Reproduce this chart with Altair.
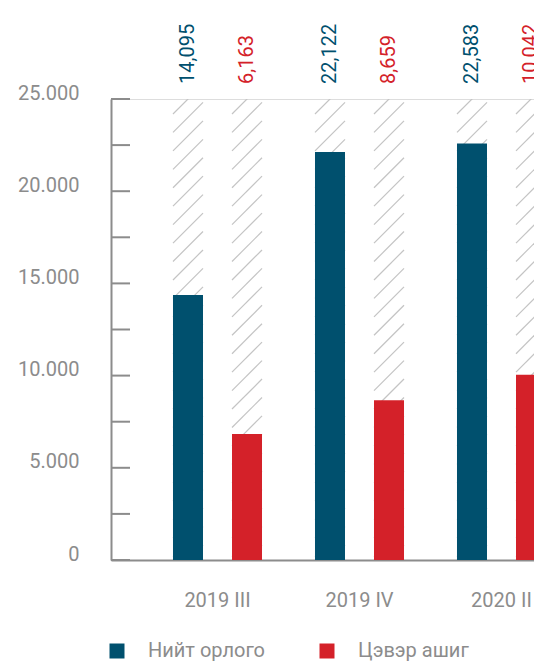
import altair as alt
import pandas as pd

# ---- data ----
categories = ["2019 III", "2019 IV", "2020 II"]
series = ["Нийт орлого", "Цэвэр ашиг"]
revenue = [14370, 22122, 22583]          # bar heights (Нийт орлого)
profit = [6830, 8659, 10042]             # bar heights (Цэвэр ашиг)
revenue_labels = ["14,095", "22,122", "22,583"]
profit_labels = ["6,163", "8,659", "10,042"]
y_max = 25000
major_ticks = [0, 5000, 10000, 15000, 20000, 25000]
minor_ticks = [0, 2500, 5000, 7500, 10000, 12500, 15000, 17500, 20000, 22500, 25000]
hatch_step = 1000
colors = ["#00506e", "#d42129"]

# ---- tables ----
rows = []
for i, c in enumerate(categories):
    rows.append({"cat": c, "series": series[0], "value": revenue[i], "label": revenue_labels[i]})
    rows.append({"cat": c, "series": series[1], "value": profit[i], "label": profit_labels[i]})
df = pd.DataFrame(rows)

hatch = pd.DataFrame(
    [{"cat": c, "series": s, "level": lv}
     for c in categories for s in series
     for lv in range(0, y_max + hatch_step, hatch_step)]
)
ticks_df = pd.DataFrame({"value": minor_ticks})

GRAY = "#8c8c8c"
FONT = "Roboto"

x_axis = alt.Axis(title=None, labelAngle=0, ticks=False, tickSize=0,
                  domainColor=GRAY, domainWidth=2, labelFont=FONT,
                  labelFontSize=20, labelColor=GRAY, labelPadding=30)
y_axis = alt.Axis(title=None, values=major_ticks, ticks=False, tickSize=0,
                  grid=False, domainColor=GRAY, domainWidth=2,
                  labelExpr="replace(format(datum.value, ','), ',', '.')",
                  labelFont=FONT, labelFontSize=20, labelColor=GRAY,
                  labelBaseline="alphabetic", labelPadding=32)

x_enc = alt.X("cat:N", sort=categories,
              scale=alt.Scale(range=[0, 497], paddingInner=0, paddingOuter=0.25),
              axis=x_axis)
xo_enc = alt.XOffset("series:N", sort=series,
                     scale=alt.Scale(paddingInner=0.4915, paddingOuter=0.449))
y_scale = alt.Scale(domain=[0, y_max], nice=False, zero=True)
color_scale = alt.Scale(domain=series, range=colors)

hatch_layer = alt.Chart(hatch).mark_point(
    shape="M-1,1L1,-1", size=900, filled=False, strokeWidth=1.2,
    opacity=1, clip=True, color="#c4c4c4"
).encode(
    x=x_enc, xOffset=xo_enc,
    y=alt.Y("level:Q", scale=y_scale, axis=y_axis),
)

bars = alt.Chart(df).mark_bar().encode(
    x=x_enc, xOffset=xo_enc,
    y=alt.Y("value:Q", scale=y_scale, axis=y_axis),
    color=alt.Color("series:N", scale=color_scale, sort=series,
                    legend=alt.Legend(orient="none", legendX=-4, legendY=542,
                                      direction="horizontal", title=None,
                                      symbolType="square", symbolSize=225,
                                      symbolStrokeWidth=0,
                                      labelFont=FONT, labelFontSize=20,
                                      labelColor=GRAY, labelOffset=21,
                                      columnPadding=51, padding=0)),
)

labels = alt.Chart(df).mark_text(
    angle=270, align="left", baseline="middle", font=FONT, fontSize=20
).encode(
    x=x_enc, xOffset=xo_enc,
    y=alt.value(-15),
    text="label:N",
    color=alt.Color("series:N", scale=color_scale, legend=None),
)

tick_rules = alt.Chart(ticks_df).mark_rule(color=GRAY, strokeWidth=2).encode(
    x=alt.value(0), x2=alt.value(19),
    y=alt.Y("value:Q", scale=y_scale, axis=y_axis),
)

chart = alt.layer(hatch_layer, bars, tick_rules, labels).properties(
    width=423, height=461,
    autosize=alt.AutoSizeParams(type="none"),
    padding={"left": 103, "top": 91, "right": 0, "bottom": 101},
).configure_view(strokeWidth=0).configure(background="white")

chart.save("out.html", embed_options={"renderer": "svg", "actions": False})
